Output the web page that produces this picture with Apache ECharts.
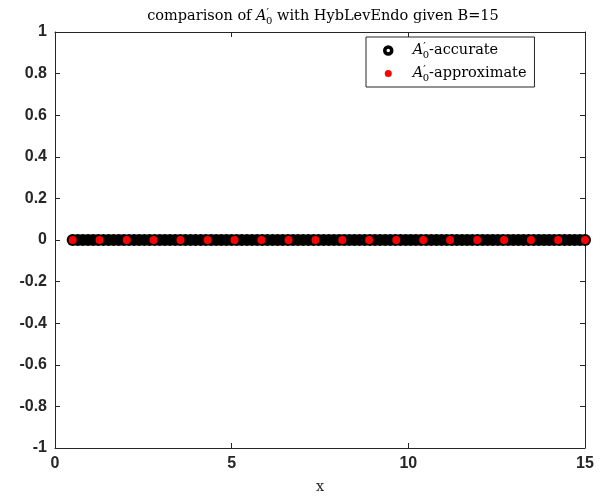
<!DOCTYPE html>
<html>
<head>
<meta charset="utf-8">
<script src="https://cdn.jsdelivr.net/npm/echarts@6/dist/echarts.min.js"></script>
<style>html,body{margin:0;padding:0;background:#fff}#c{width:606px;height:500px}</style>
</head>
<body>
<div id="c"></div>
<script>
// accurate solution grid (x) and values
const accurateX = [0.5,0.645,0.79,0.935,1.08,1.225,1.37,1.515,1.66,1.805,1.95,2.095,2.24,2.385,2.53,2.675,2.82,2.965,3.11,3.255,3.4,3.545,3.69,3.835,3.98,4.125,4.27,4.415,4.56,4.705,4.85,4.995,5.14,5.285,5.43,5.575,5.72,5.865,6.01,6.155,6.3,6.445,6.59,6.735,6.88,7.025,7.17,7.315,7.46,7.605,7.75,7.895,8.04,8.185,8.33,8.475,8.62,8.765,8.91,9.055,9.2,9.345,9.49,9.635,9.78,9.925,10.07,10.215,10.36,10.505,10.65,10.795,10.94,11.085,11.23,11.375,11.52,11.665,11.81,11.955,12.1,12.245,12.39,12.535,12.68,12.825,12.97,13.115,13.26,13.405,13.55,13.695,13.84,13.985,14.13,14.275,14.42,14.565,14.71,14.855,15];
const accurateY = [0,0,0,0,0,0,0,0,0,0,0,0,0,0,0,0,0,0,0,0,0,0,0,0,0,0,0,0,0,0,0,0,0,0,0,0,0,0,0,0,0,0,0,0,0,0,0,0,0,0,0,0,0,0,0,0,0,0,0,0,0,0,0,0,0,0,0,0,0,0,0,0,0,0,0,0,0,0,0,0,0,0,0,0,0,0,0,0,0,0,0,0,0,0,0,0,0,0,0,0,0];
// approximate solution grid (x) and values
const approxX = [0.5,1.26,2.03,2.79,3.55,4.32,5.08,5.84,6.61,7.37,8.13,8.89,9.66,10.42,11.18,11.95,12.71,13.47,14.24,15.0];
const approxY = [0,0,0,0,0,0,0,0,0,0,0,0,0,0,0,0,0,0,0,0];
const xTicks = [0,5,10,15];
const yTicks = [-1,-0.8,-0.6,-0.4,-0.2,0,0.2,0.4,0.6,0.8,1];
const titleText = '{n|comparison of }{it|A}{pr|′}{sub|0}{n| with HybLevEndo given B=15}';
const legendNames = ['accurate','approximate'];

const serif = 'DejaVu Serif';
const axisColor = '#262626';
const rich = {
  n: {fontFamily: serif, fontSize: 14.5, fontWeight: 'normal', color: '#000'},
  it: {fontFamily: serif, fontSize: 14.5, fontWeight: 'normal', fontStyle: 'italic', color: '#000'},
  pr: {fontFamily: serif, fontSize: 11, fontWeight: 'normal', color: '#000', padding: [0,0,6,0]},
  sub: {fontFamily: serif, fontSize: 10, fontWeight: 'normal', color: '#000', padding: [9,0,0,-3]}
};

const chart = echarts.init(document.getElementById('c'), null, {renderer: 'canvas'});
const tickLabel = {fontFamily: 'Liberation Sans', fontWeight: 'bold', fontSize: 16, color: axisColor};
chart.setOption({
  animation: false,
  backgroundColor: '#fff',
  title: {
    text: titleText,
    left: 318, top: 2, textAlign: 'center',
    textStyle: {rich: rich}
  },
  legend: {
    left: 366, top: 37,
    orient: 'vertical',
    padding: [5, 8, 4, 17],
    itemGap: 5,
    itemWidth: 7, itemHeight: 7,
    borderColor: axisColor, borderWidth: 1, backgroundColor: '#fff',
    data: [
      {name: legendNames[0], icon: 'circle', itemStyle: {color: '#fff', borderColor: '#000', borderWidth: 3.5}},
      {name: legendNames[1], icon: 'circle', itemStyle: {color: '#ff0000', borderWidth: 0}}
    ],
    formatter: function (name) { return '{it|A}{pr|′}{sub|0}{n|-' + name + '}'; },
    textStyle: {rich: rich, padding: [0, 0, 0, 16]}
  },
  grid: {left: 55, right: 21, top: 32, bottom: 50},
  xAxis: [{
    type: 'value', min: xTicks[0], max: xTicks[xTicks.length - 1], interval: 5,
    name: 'x', nameLocation: 'middle', nameGap: 32,
    nameTextStyle: {fontFamily: serif, fontSize: 14.5, color: axisColor},
    axisLine: {onZero: false, lineStyle: {color: axisColor}},
    axisTick: {inside: true, length: 5, lineStyle: {color: axisColor}},
    axisLabel: Object.assign({margin: 8}, tickLabel),
    splitLine: {show: false}
  }, {
    type: 'value', position: 'top', min: xTicks[0], max: xTicks[xTicks.length - 1], interval: 5,
    axisLine: {onZero: false, lineStyle: {color: axisColor}},
    axisTick: {inside: true, length: 5, lineStyle: {color: axisColor}},
    axisLabel: {show: false}, splitLine: {show: false}
  }],
  yAxis: [{
    type: 'value', min: yTicks[0], max: yTicks[yTicks.length - 1], interval: 0.2,
    axisLine: {show: true, onZero: false, lineStyle: {color: axisColor}},
    axisTick: {show: true, inside: true, length: 5, lineStyle: {color: axisColor}},
    axisLabel: Object.assign({margin: 8, formatter: function (v) { return String(Math.round(v * 10) / 10); }}, tickLabel),
    splitLine: {show: false}
  }, {
    type: 'value', position: 'right', min: yTicks[0], max: yTicks[yTicks.length - 1], interval: 0.2,
    axisLine: {show: true, onZero: false, lineStyle: {color: axisColor}},
    axisTick: {show: true, inside: true, length: 5, lineStyle: {color: axisColor}},
    axisLabel: {show: false}, splitLine: {show: false}
  }],
  series: [{
    name: legendNames[0], type: 'scatter', xAxisIndex: 0, yAxisIndex: 0,
    data: accurateX.map((x, i) => [x, accurateY[i]]),
    symbol: 'circle', symbolSize: 12,
    itemStyle: {color: '#000', borderColor: '#000', borderWidth: 0, opacity: 1}
  }, {
    name: legendNames[1], type: 'scatter', xAxisIndex: 0, yAxisIndex: 0,
    data: approxX.map((x, i) => [x, approxY[i]]),
    symbol: 'circle', symbolSize: 8,
    itemStyle: {color: '#ff0000', opacity: 1}
  }]
});
</script>
</body>
</html>
